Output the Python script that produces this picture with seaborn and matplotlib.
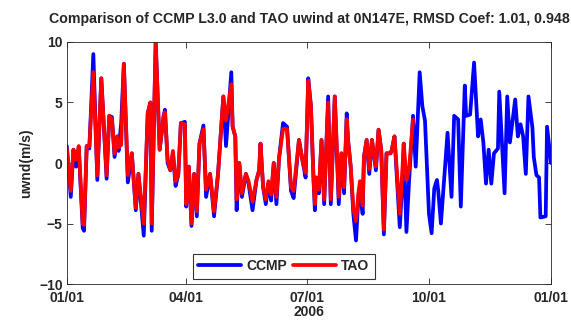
import numpy as np
import pandas as pd
import seaborn as sns
import matplotlib
matplotlib.use("Agg")
import matplotlib.pyplot as plt
import matplotlib.dates as mdates

# days since 2006-01-01 and zonal wind (m/s)
ccmp_day = [0, 3, 5, 7, 9, 12, 13, 15, 17, 20, 23, 26, 30, 32, 34, 36, 38, 39, 41, 43,
            46, 49, 52, 54, 58, 61, 63, 64, 67, 70, 73, 74, 76, 78, 80, 82, 84, 86, 89, 90,
            92, 94, 96, 98, 100, 103, 105, 108, 111, 114, 118, 120, 124, 125, 127, 128, 130, 132, 135, 137,
            140, 143, 145, 146, 148, 150, 152, 154, 156, 158, 160, 163, 166, 169, 171, 175, 178, 180, 182, 184,
            186, 187, 188, 190, 192, 194, 197, 199, 202, 205, 207, 209, 211, 212, 214, 216, 218, 220, 221, 223,
            224, 226, 228, 230, 233, 235, 237, 239, 241, 244, 245, 247, 251, 253, 254, 256, 258, 261, 263, 266,
            268, 270, 273, 275, 277, 279, 280, 282, 287, 290, 292, 295, 297, 300, 301, 304, 307, 310, 312, 314,
            316, 318, 320, 322, 325, 326, 330, 332, 334, 338, 340, 342, 344, 346, 348, 351, 352, 354, 356, 357,
            361, 362, 365]
ccmp_u = [1.4, -2.8, 1.1, -0.3, 1.2, -5.4, -5.6, 1.4, 1.2, 9.0, -1.4, 7.0, -1.3, 3.9, 3.8, 0.5, 2.2, 1.0, 3.3, 8.2,
          -1.6, 0.8, -3.9, -0.9, -6.0, 4.1, 5.0, -5.6, 10.0, 1.1, 3.9, 4.4, 0.0, -0.6, 0.8, -1.9, -1.0, 3.3, 3.4, -3.6,
          -0.3, -5.2, -0.9, -4.4, 1.6, 3.1, -2.8, -0.9, -4.4, -0.9, 5.5, 1.4, 7.5, 3.0, 2.2, -3.9, 0.0, -2.8, -0.9, -1.7,
          -3.9, -1.4, -0.6, 1.6, -2.0, -3.4, -1.7, -3.1, 0.0, -3.4, 0.4, 3.3, 3.0, -2.3, -2.9, 1.9, 0.0, -1.2, 7.0, 4.7,
          -1.4, -3.9, -1.2, -2.5, 1.9, -3.4, 5.5, -3.4, 5.5, -3.4, 0.8, -2.5, 4.1, 1.9, -0.3, -4.2, -6.4, -2.5, -2.2, -4.2,
          0.5, 1.9, -0.9, 1.9, -0.6, 2.75, 1.1, -5.9, 0.8, 0.8, 1.1, 2.2, -5.3, -1.5, 1.6, -5.7, -1.5, 3.9, -0.3, 7.5,
          4.7, 3.5, -4.2, -5.8, -2.1, -1.4, -2.3, -5.0, 2.5, -2.8, 3.9, 3.6, -3.6, 6.4, 3.9, 4.0, 8.3, 2.2, 3.6, 1.7,
          -1.7, 1.1, -1.7, 0.8, 1.2, 5.9, -2.5, 5.5, 1.7, 5.25, 2.2, 3.2, 2.2, -0.9, 5.5, 2.9, 0.5, -1.0, -1.2, -4.5,
          -4.4, 3.0, 0.0]

tao_day = ccmp_day[:118]
tao_u = [1.2, -2.3, 1.1, 0.3, 1.4, -5.0, -5.1, 1.4, 1.4, 7.5, -1.0, 7.0, -1.0, 3.9, 3.6, 0.8, 2.2, 1.3, 1.5, 8.2,
         -1.0, 0.8, -3.7, -0.9, -5.0, 4.1, 5.0, -5.0, 10.0, 1.1, 3.9, 4.2, 0.3, -0.6, 1.0, -1.5, -1.0, 3.3, 3.2, -3.4,
         -0.3, -5.0, -0.9, -4.0, 1.6, 2.8, -2.2, -0.9, -4.0, -0.9, 5.5, 3.5, 6.5, 3.0, 2.2, -3.0, 0.0, -2.5, -0.9, -1.5,
         -3.2, -1.4, -0.6, 1.6, -2.0, -3.0, -1.5, -2.6, 0.0, -2.8, 0.4, 2.8, 2.8, -2.0, -2.3, 1.9, 0.0, -0.8, 6.8, 4.7,
         -1.4, -3.4, -1.2, -2.2, 1.9, -3.0, 5.0, -3.0, 5.5, -2.8, 0.8, -2.0, 3.6, 1.9, -0.3, -3.8, -4.8, -2.3, -1.5, -3.5,
         0.5, 1.9, -0.5, 1.9, -0.3, 2.75, 1.1, -5.5, 0.8, 0.8, 1.1, 2.2, -4.2, -0.5, 1.6, -1.4, -0.5, 3.6]

tick_dates = ["2006-01-01", "2006-04-01", "2006-07-01", "2006-10-01", "2007-01-01"]
title = "Comparison of CCMP L3.0 and TAO uwind at 0N147E, RMSD Coef: 1.01, 0.948"

start = pd.Timestamp("2006-01-01")
ccmp = pd.DataFrame({"date": start + pd.to_timedelta(ccmp_day, unit="D"), "u": ccmp_u})
tao = pd.DataFrame({"date": start + pd.to_timedelta(tao_day, unit="D"), "u": tao_u})

sns.set_style("ticks")
plt.rcParams["font.family"] = ["Liberation Sans", "DejaVu Sans"]
plt.rcParams["font.weight"] = "bold"
plt.rcParams["xtick.direction"] = "in"
plt.rcParams["ytick.direction"] = "in"

fig = plt.figure(figsize=(5.71, 3.28), dpi=100)
ax = fig.add_axes([0.117, 0.134, 0.848, 0.738])

sns.lineplot(data=ccmp, x="date", y="u", color=(0, 0, 1), lw=2.7,
             estimator=None, sort=False, label="CCMP", ax=ax)
sns.lineplot(data=tao, x="date", y="u", color=(1, 0, 0), lw=2.7,
             estimator=None, sort=False, label="TAO", ax=ax)

ax.set_xlim(pd.Timestamp(tick_dates[0]), pd.Timestamp(tick_dates[-1]))
ax.set_ylim(-10, 10)
ax.set_yticks([-10, -5, 0, 5, 10])
ax.set_xticks(pd.to_datetime(tick_dates))
ax.xaxis.set_major_formatter(mdates.DateFormatter("%m/%d"))
ax.tick_params(top=True, right=True, labelsize=10, length=4, width=0.6, pad=3)
ax.tick_params(axis="x", pad=5)
for lab in ax.get_xticklabels() + ax.get_yticklabels():
    lab.set_fontweight("bold")
for s in ax.spines.values():
    s.set_linewidth(0.6)

ax.set_xlabel("2006", fontsize=10, fontweight="bold", labelpad=0)
ax.set_ylabel("uwnd(m/s)", fontsize=10, fontweight="bold", labelpad=4)
ax.set_title(title, fontsize=10.2, fontweight="bold", pad=14)

leg = ax.legend(loc="lower left", bbox_to_anchor=(0.26, 0.022), borderaxespad=0,
                ncol=2, fontsize=10, frameon=True, fancybox=False, handlelength=3.1,
                columnspacing=0.45, handletextpad=0.35, borderpad=0.4)
leg.get_frame().set_edgecolor("black")
leg.get_frame().set_linewidth(0.8)
for t in leg.get_texts():
    t.set_fontweight("bold")

fig.savefig("out.png", dpi=100)
